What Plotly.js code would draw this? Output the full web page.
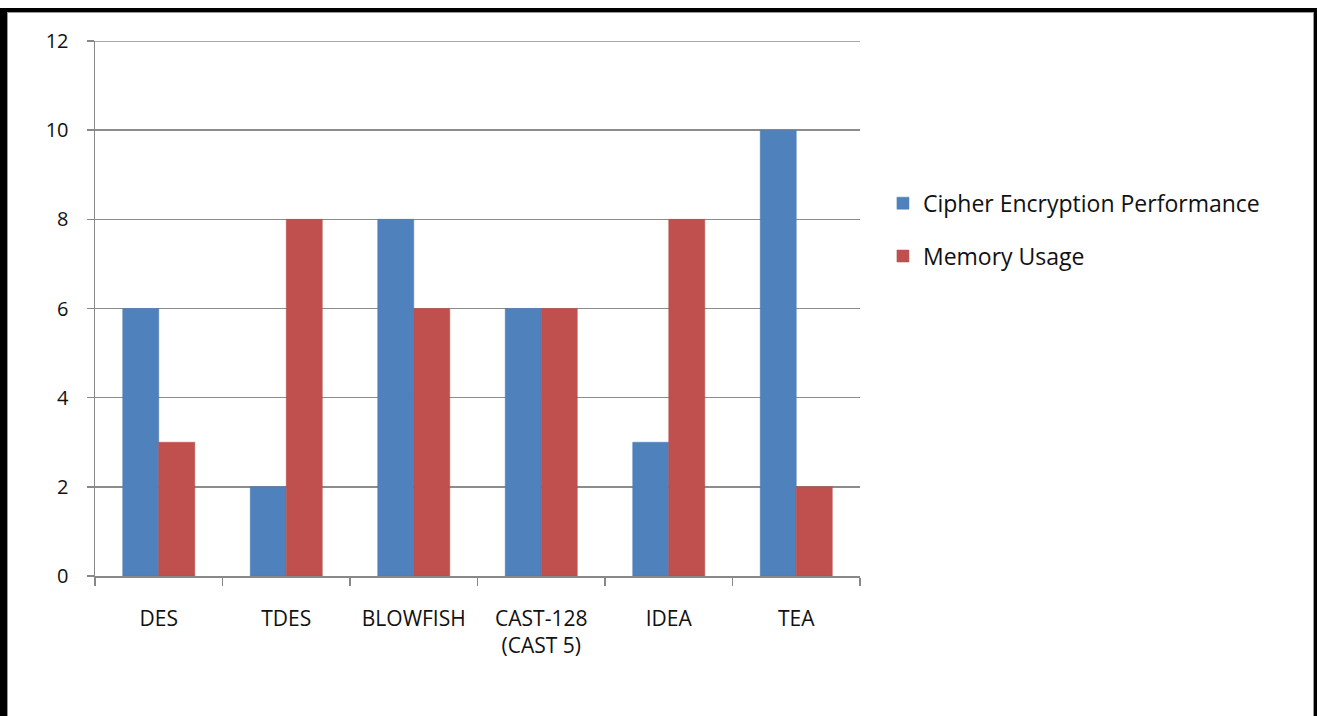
<!DOCTYPE html>
<html>
<head>
<meta charset="utf-8">
<script src="https://cdn.plot.ly/plotly-3.0.1.min.js"></script>
<style>
html,body{margin:0;padding:0;background:#fff;overflow:hidden;}
#wrap{position:relative;width:1317px;height:716px;}
#chart{position:absolute;left:0;top:0;width:1317px;height:716px;}
#frame{position:absolute;left:0;top:8px;width:1317px;height:720px;border-left:7px solid #000;border-top:4px solid #000;border-right:3px solid #000;box-sizing:border-box;pointer-events:none;}
#inner{position:absolute;left:7px;top:12px;width:1307px;height:704px;border-left:1px solid #999;border-top:1px solid #999;border-right:1px solid #999;box-sizing:border-box;pointer-events:none;}
</style>
</head>
<body>
<div id="wrap">
<div id="chart"></div>
<div id="inner"></div>
<div id="frame"></div>
</div>
<script>
const categories = ["DES", "TDES", "BLOWFISH", "CAST-128<br>(CAST 5)", "IDEA", "TEA"];
const cipherPerformance = [6, 2, 8, 6, 3, 10];
const memoryUsage = [3, 8, 6, 6, 8, 2];
const seriesNames = ["Cipher Encryption Performance", "Memory Usage"];
const yTicks = [0, 2, 4, 6, 8, 10, 12];

const font = "Open Sans, Liberation Sans, sans-serif";
const traces = [
  {type: "bar", name: seriesNames[0], x: categories, y: cipherPerformance,
   marker: {color: "#4F81BD", line: {color: "#4a7ab3", width: 0.5}}, legendgroup: "a"},
  {type: "bar", name: seriesNames[1], x: categories, y: memoryUsage,
   marker: {color: "#C0504D", line: {color: "#b54b48", width: 0.5}}, legendgroup: "b"}
];
const yMax = yTicks[yTicks.length - 1];
const layout = {
  width: 1317, height: 716,
  margin: {l: 95, r: 457, t: 41, b: 140},
  paper_bgcolor: "#fff", plot_bgcolor: "#fff",
  barmode: "group", bargap: 0.435, bargroupgap: 0,
  font: {family: font, size: 20, color: "#111"},
  showlegend: true,
  legend: {x: 1.03, y: 0.737, xanchor: "left", yanchor: "top",
           font: {family: font, size: 23, color: "#111"},
           traceorder: "grouped", tracegroupgap: 20, itemwidth: 30},
  xaxis: {type: "category", showgrid: false, showline: true, linecolor: "#888", linewidth: 1.5,
          ticks: "outside", tickson: "boundaries", ticklen: 8, tickcolor: "#888", tickwidth: 1.5,
          ticklabelstandoff: 23, tickfont: {family: font, size: 21, color: "#111"}},
  yaxis: {range: [0, yMax], tickvals: yTicks, showgrid: true, gridcolor: "#8c8c8c", gridwidth: 1.5,
          showline: true, linecolor: "#888", linewidth: 1.5, zeroline: false,
          ticks: "outside", ticklen: 7, tickcolor: "#888", tickwidth: 1.5,
          ticklabelstandoff: 14, tickfont: {family: font, size: 20, color: "#111"}},
  shapes: [{type: "line", xref: "paper", x0: 0, x1: 1, yref: "y", y0: yMax, y1: yMax,
            line: {color: "#8c8c8c", width: 1.5}, layer: "below"}]
};
Plotly.newPlot("chart", traces, layout, {displayModeBar: false, staticPlot: true});
</script>
</body>
</html>
